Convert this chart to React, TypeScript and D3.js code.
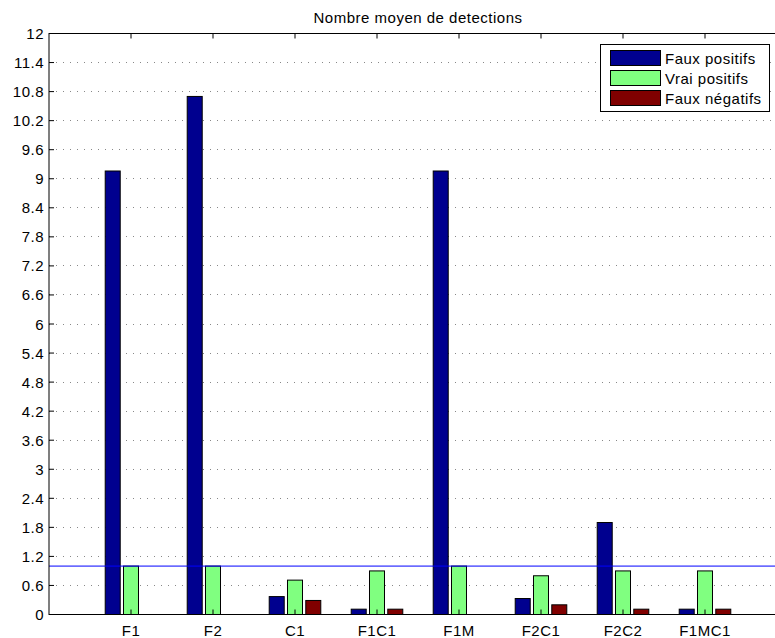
import React from "react";
import * as d3 from "d3";

const categories = ["F1", "F2", "C1", "F1C1", "F1M", "F2C1", "F2C2", "F1MC1"];
const seriesNames = ["Faux positifs", "Vrai positifs", "Faux négatifs"];
const fauxPositifs = [9.16, 10.7, 0.37, 0.11, 9.16, 0.33, 1.9, 0.11];
const vraiPositifs = [1.0, 1.0, 0.71, 0.9, 1.0, 0.8, 0.9, 0.9];
const fauxNegatifs = [0, 0, 0.29, 0.11, 0, 0.2, 0.11, 0.11];
const seriesColors = ["#00008F", "#80FF80", "#800000"];
const yTicks = d3.range(0, 12.0001, 0.6).map((v) => +v.toFixed(1));
const refLine = 1;
const title = "Nombre moyen de detections";

export default function App() {
  const W = 775, H = 638;
  const left = 49, top = 33.5, bottom = 614.5;
  const x = d3.scaleLinear().domain([0, 9]).range([left, left + 82 * 9]);
  const y = d3.scaleLinear().domain([0, 12]).range([bottom, top]);
  const series = [fauxPositifs, vraiPositifs, fauxNegatifs];
  const offsets = [-0.223, 0, 0.223];
  const bw = 0.183;
  const right = x(9);
  const font = "Liberation Sans, Arial, Helvetica, sans-serif";
  const fs = 15;
  const ls = 0.5;
  return (
    <svg width={W} height={H} style={{ position: "absolute", left: 0, top: 0, background: "#fff" }} fontFamily={font}>
      <rect x={0} y={0} width={W} height={H} fill="#fff" />
      {yTicks.map((t) => (
        <line key={"g" + t} x1={left} x2={right} y1={y(t)} y2={y(t)} stroke="#888" strokeWidth={1} strokeDasharray="1,6" shapeRendering="crispEdges" />
      ))}
      {series.map((vals, si) =>
        vals.map((v, ci) => {
          const cx = x(ci + 1) + offsets[si] * 82;
          const w = bw * 82;
          return (
            <rect key={si + "-" + ci} x={cx - w / 2} y={y(v)} width={w} height={Math.max(0, y(0) - y(v))}
              fill={seriesColors[si]} stroke="#000" strokeWidth={1} />
          );
        })
      )}
      <line x1={left} x2={right} y1={y(refLine)} y2={y(refLine)} stroke="#0000FF" strokeWidth={1} />
      <rect x={left} y={top} width={right - left} height={bottom - top} fill="none" stroke="#000" strokeWidth={1} />
      {yTicks.map((t) => (
        <g key={"y" + t}>
          <line x1={left} x2={left + 5} y1={y(t)} y2={y(t)} stroke="#000" />
          <text x={left - 5} y={y(t) + 5.5} textAnchor="end" fontSize={fs} letterSpacing={ls} fill="#000">{String(t)}</text>
        </g>
      ))}
      {categories.map((c, i) => (
        <g key={c}>
          <line x1={x(i + 1)} x2={x(i + 1)} y1={bottom} y2={bottom - 5} stroke="#000" />
          <line x1={x(i + 1)} x2={x(i + 1)} y1={top} y2={top + 5} stroke="#000" />
          <text x={x(i + 1)} y={636} textAnchor="middle" fontSize={fs} letterSpacing={ls} fill="#000">{c}</text>
        </g>
      ))}
      <text x={418} y={23} textAnchor="middle" fontSize={fs} letterSpacing={ls} fill="#000">{title}</text>
      <g>
        <rect x={600.5} y={44.5} width={169} height={67} fill="#fff" stroke="#000" strokeWidth={1} />
        {seriesNames.map((n, i) => (
          <g key={n}>
            <rect x={610.5} y={50.5 + i * 20} width={50} height={15} fill={seriesColors[i]} stroke="#000" strokeWidth={1} />
            <text x={665} y={63.5 + i * 20} fontSize={fs} letterSpacing={ls} fill="#000">{n}</text>
          </g>
        ))}
      </g>
    </svg>
  );
}
